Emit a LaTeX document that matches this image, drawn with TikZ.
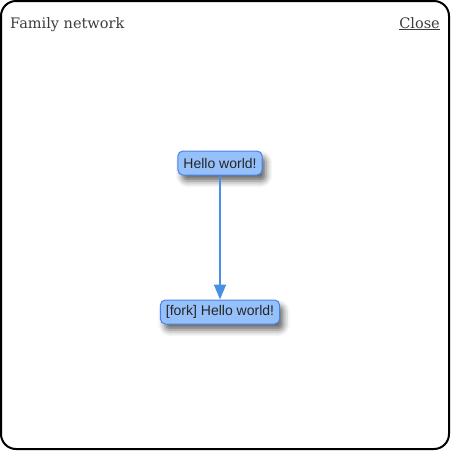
\documentclass[tikz,border=0pt]{standalone}
\usepackage{fontspec}
\setmainfont{Liberation Sans}
\newfontfamily\titlefont{DejaVu Serif}
\usetikzlibrary{shadows.blur,arrows.meta}
\definecolor{nodefill}{RGB}{150,192,250}
\definecolor{nodeborder}{RGB}{70,130,230}
\definecolor{edgecol}{RGB}{74,144,226}
\definecolor{titlecol}{RGB}{60,60,60}
\tikzset{
  person/.style={draw=nodeborder, fill=nodefill, line width=1pt, rounded corners=5pt,
    minimum height=24pt, inner xsep=5.5pt, inner ysep=0pt, text=black!85,
    font=\fontsize{14}{16}\selectfont,
    blur shadow={shadow xshift=4pt, shadow yshift=-6pt, shadow blur radius=6pt, shadow opacity=60}},
  link/.style={draw=edgecol, line width=2pt, -{Triangle[length=15pt,width=12pt]}},
  toptext/.style={font=\titlefont\fontsize{14.5}{16}\selectfont, text=titlecol, inner sep=0pt}
}
\begin{document}
\begin{tikzpicture}[x=1pt,y=-1pt]
\useasboundingbox (0,0) rectangle (451,451);
\draw[line width=2pt, rounded corners=15pt] (1,1) rectangle (449,449);
\node[toptext, anchor=base west] (title) at (10,28) {Family network};
\node[toptext, anchor=base east] (close) at (440,28) {\underline{Close}};
\node[person] (a) at (220,163) {Hello world!};
\node[person] (b) at (220,312) {[fork] Hello world!};
\draw[link] (a) -- (b);
\end{tikzpicture}
\end{document}
